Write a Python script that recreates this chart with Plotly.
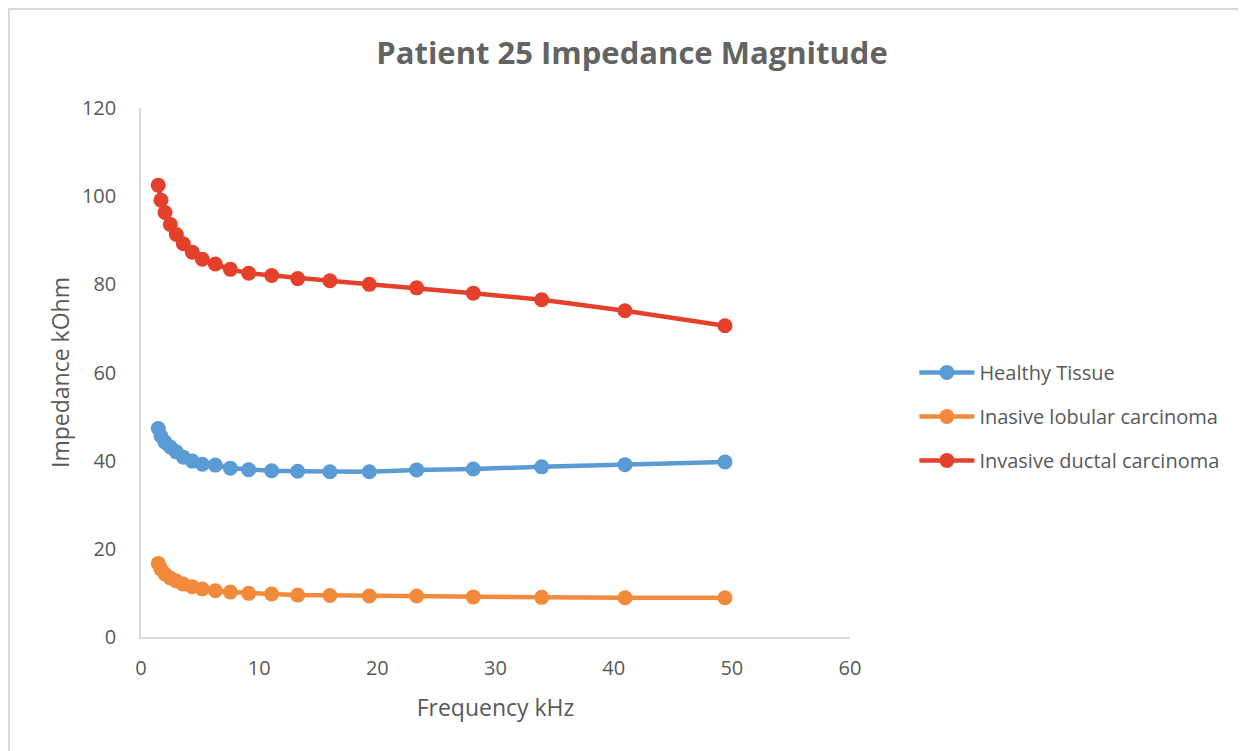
import plotly.graph_objects as go

freq_khz = [1.46, 1.69, 2.03, 2.48, 2.99, 3.58, 4.34, 5.19, 6.29, 7.56, 9.11,
            11.06, 13.26, 15.99, 19.32, 23.33, 28.12, 33.91, 40.96, 49.42]

healthy = [47.3, 45.6, 44.2, 43.1, 42.0, 40.8, 39.9, 39.2, 39.0, 38.3, 37.95,
           37.7, 37.6, 37.5, 37.5, 37.9, 38.1, 38.6, 39.1, 39.7]
lobular = [16.7, 15.4, 14.3, 13.4, 12.7, 12.0, 11.4, 10.9, 10.5, 10.2, 9.9,
           9.75, 9.5, 9.4, 9.3, 9.3, 9.1, 9.0, 8.9, 8.9]
ductal = [102.5, 99.1, 96.3, 93.6, 91.3, 89.2, 87.3, 85.7, 84.6, 83.4, 82.5,
          82.0, 81.3, 80.8, 80.0, 79.2, 78.0, 76.5, 74.0, 70.6]

series_names = ["Healthy Tissue", "Inasive lobular carcinoma", "Invasive ductal carcinoma"]
series_values = [healthy, lobular, ductal]
colors = ["#5B9BD5", "#F28A3C", "#E5402B"]

x_ticks = [0, 10, 20, 30, 40, 50, 60]
y_ticks = [0, 20, 40, 60, 80, 100, 120]

FONT = "Open Sans, Liberation Sans, sans-serif"
TXT = "#595959"

# page is offset by the browser's default body margin (8px)
OFF = 8
L, R, T, B = 141 - OFF, 850 - OFF, 108 - OFF, 637 - OFF
PW, PH = R - L, B - T

fig = go.Figure()
for name, vals, col in zip(series_names, series_values, colors):
    fig.add_trace(go.Scatter(
        x=freq_khz, y=vals, name=name, mode="lines+markers",
        line=dict(color=col, width=4.5),
        marker=dict(color=col, size=15),
        legendgroup=name,
    ))

fig.update_layout(
    width=1246, height=751,
    paper_bgcolor="white", plot_bgcolor="white",
    margin=dict(l=L, r=1246 - R, t=T, b=751 - B),
    title=dict(text="<b>Patient 25 Impedance Magnitude</b>",
               font=dict(family=FONT, size=31, color="#636363"),
               x=(632 - OFF) / 1246, xanchor="center", y=1 - (53 - OFF) / 751, yanchor="middle"),
    font=dict(family=FONT, size=20, color=TXT),
    legend=dict(x=1.0908, y=0.537, xanchor="left", yanchor="top",
                font=dict(family=FONT, size=20, color=TXT),
                tracegroupgap=15, itemwidth=55, bgcolor="rgba(0,0,0,0)"),
    showlegend=True,
)

fig.update_xaxes(range=[0, 60], tickvals=x_ticks, ticktext=[str(v) for v in x_ticks],
                 showgrid=False, zeroline=False, showline=True, linecolor="#D9D9D9",
                 linewidth=1.5, ticks="", ticklabelstandoff=12,
                 title=dict(text="Frequency kHz", font=dict(family=FONT, size=23, color=TXT),
                            standoff=20))
fig.update_yaxes(range=[0, 120], tickvals=y_ticks, ticktext=[str(v) for v in y_ticks],
                 showgrid=False, zeroline=False, showline=True, linecolor="#D9D9D9",
                 linewidth=1.5, ticks="", ticklabelstandoff=19,
                 title=dict(text="Impedance kOhm", font=dict(family=FONT, size=23, color=TXT),
                            standoff=6))

# chart frame: left and top edges visible, right/bottom beyond the window
fig.add_shape(type="rect", xref="paper", yref="paper",
              x0=(1 - L) / PW, x1=(1260 - L) / PW,
              y0=(B - 770) / PH, y1=(B - 1) / PH,
              line=dict(color="#D9D9D9", width=2), fillcolor="rgba(0,0,0,0)", layer="below")

fig.write_html("out.html")
